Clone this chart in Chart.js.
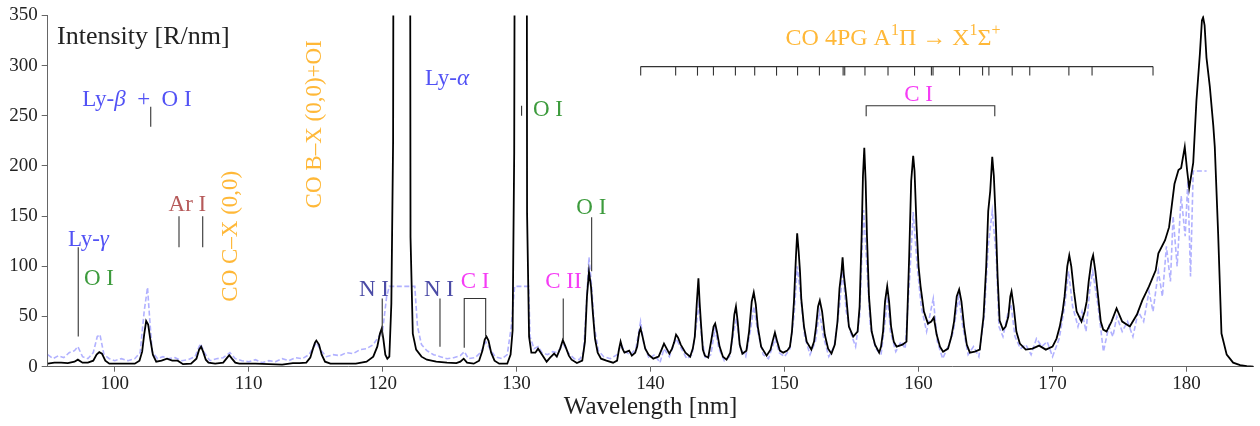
<!DOCTYPE html>
<html>
<head>
<meta charset="utf-8">
<script src="https://cdn.jsdelivr.net/npm/chart.js@4.4.0/dist/chart.umd.min.js"></script>
<style>html,body{margin:0;padding:0;background:#fff}</style>
</head>
<body>
<canvas id="c" width="1260" height="426"></canvas>
<script>
// observed spectrum (black), wavelength in nm, intensity in R/nm
const specWl = [95.0,95.5,96.0,96.5,97.0,97.25,97.6,98.0,98.4,98.65,
  98.85,99.05,99.3,99.6,100.5,101.5,101.85,102.05,102.2,102.35,
  102.5,102.65,102.85,103.1,103.5,103.9,104.3,104.7,105.1,105.7,
  106.1,106.3,106.45,106.6,106.8,107.0,107.5,108.1,108.4,108.55,
  108.75,109.0,109.3,110.5,111.5,112.5,113.3,113.8,114.3,114.6,
  114.8,114.95,115.05,115.25,115.45,115.7,116.1,117.0,118.0,118.8,
  119.3,119.6,119.8,119.93,120.05,120.2,120.35,120.5,120.65,120.78,
  120.88,122.0,122.08,122.25,122.5,122.9,123.3,124.0,124.8,125.5,
  125.8,126.05,126.3,126.8,127.2,127.45,127.62,127.75,127.9,128.1,
  128.35,128.7,129.3,129.55,129.7,129.82,129.95,130.72,130.78,130.93,
  131.1,131.4,131.6,131.9,132.24,132.5,132.8,133.0,133.25,133.45,
  133.65,133.9,134.1,134.5,134.9,135.1,135.25,135.4,135.55,135.7,
  135.85,136.05,136.3,136.7,137.2,137.5,137.65,137.76,137.9,138.05,
  138.4,138.6,138.85,139.0,139.15,139.25,139.4,139.6,139.85,140.2,
  140.6,140.85,141.0,141.2,141.4,141.6,141.75,141.9,142.05,142.25,
  142.6,142.95,143.15,143.3,143.45,143.57,143.66,143.77,143.9,144.05,
  144.3,144.55,144.7,144.82,144.95,145.15,145.4,145.67,145.95,146.1,
  146.25,146.37,146.5,146.65,146.85,147.15,147.35,147.55,147.7,147.85,
  148.0,148.25,148.66,148.95,149.1,149.28,149.45,149.65,149.9,150.2,
  150.4,150.55,150.7,150.85,150.94,151.05,151.15,151.25,151.45,151.65,
  152.0,152.2,152.35,152.5,152.63,152.8,153.0,153.25,153.5,153.75,
  153.95,154.1,154.25,154.33,154.42,154.6,154.8,155.12,155.45,155.6,
  155.75,155.85,155.95,156.05,156.15,156.3,156.5,156.75,157.06,157.2,
  157.35,157.5,157.66,157.8,157.95,158.15,158.36,158.8,159.1,159.3,
  159.45,159.6,159.7,159.85,160.0,160.15,160.4,160.7,160.95,161.14,
  161.35,161.6,161.83,162.2,162.45,162.65,162.85,163.03,163.2,163.4,
  163.6,163.83,164.2,164.57,164.85,165.05,165.2,165.35,165.5,165.62,
  165.75,165.9,166.05,166.3,166.5,166.7,166.85,166.94,167.1,167.3,
  167.56,168.0,168.5,169.0,169.5,170.0,170.3,170.54,170.75,170.9,
  171.1,171.25,171.4,171.6,171.8,172.16,172.4,172.55,172.7,172.9,
  173.03,173.2,173.4,173.6,173.78,174.03,174.4,174.78,175.2,175.77,
  176.3,176.7,177.2,177.7,177.9,178.4,178.7,179.1,179.4,179.6,
  179.87,180.05,180.2,180.5,180.74,181.0,181.15,181.24,181.35,181.49,
  181.74,182.0,182.11,182.36,182.61,183.0,183.48,184.0,184.5,185.0];
const specI = [3,4,4,3.5,5,7,4,4,6,12,
  14.5,13,6,3,3,3,6,15,32,45.5,
  42,28,12,5,6,8,6,6,2.5,3,
  8,17,20,15,7,4,3,4,9,11.5,
  8,4,3,3,2.5,2,3.5,3.5,4,9,
  18,24,26,22,12,5,3,3,3,5,
  10,20,33,38,28,12,8,10,63,224,
  1000,1000,129,33,17,10,7,5,4,3.5,
  5,8,4,3,6,16,27,30,26,14,
  6,3,3,12,36,214,1000,1000,153,30,
  14,14,18,12,5,9,13,10,18,26.5,
  20,11,7,3.6,6,25,70,94.5,80,52,
  28,14,8,6,4,6,18,25,18,14,
  16,11,14,20,34,38,30,18,12,8,
  10,18,23,18,13,18,24,32,29,22,
  14,10,18,30,64,88,64,41,17,11,
  9,28,40,43,35,20,10,7,14,30,
  52,60,45,22,13,16,35,65,74,62,
  40,20,11,17,25,34,25,16,14,16,
  20,35,65,110,133,115,95,67,40,25,
  17,25,40,60,66,55,32,18,13,22,
  45,78,95,109,92,70,40,30,35,60,
  130,190,218,185,130,70,35,22,14,20,
  35,65,80,65,40,25,20,22,25,110,
  185,210,195,140,100,80,55,43,45,49,
  32,20,15,18,30,45,70,77,65,40,
  22,14,15,17,50,100,155,175,209,190,
  150,90,46,37,40,50,70,75,60,35,
  23,17,18,21,17,20,28,40,55,70,
  100,111,100,75,55,45,55,65,85,105,
  111,95,70,45,37,35,45,58,45,40,
  52,66,80,96,113,126,139,182,196,198,
  219,195,178,203,265,312,345,348,340,308,
  279,240,219,133,33,12,4,1.5,0.5,0];

// model spectrum (dashed blue)
const modelWl = [95.0,95.4,95.8,96.2,96.6,97.0,97.25,97.6,98.0,98.4,98.7,98.9,99.2,99.6,100.0,100.5,101.0,101.5,101.9,102.2,
  102.45,102.6,102.8,103.2,103.6,104.0,104.5,105.0,105.5,106.0,106.4,106.7,107.1,107.6,108.1,108.6,109.0,109.5,110.0,110.5,
  111.0,111.5,112.0,112.5,113.0,113.5,114.0,114.5,115.05,115.4,115.8,116.3,116.8,117.3,117.8,118.3,118.8,119.3,119.7,120.0,
  120.3,120.5,122.4,122.6,122.9,123.3,123.8,124.3,124.8,125.3,125.8,126.1,126.4,126.9,127.3,127.7,128.0,128.4,128.9,129.3,
  129.6,129.85,130.9,131.0,131.3,131.6,131.9,132.3,132.7,133.0,133.5,133.9,134.3,134.7,135.0,135.2,135.4,135.6,135.8,136.1,
  136.5,137.0,137.5,137.8,138.1,138.5,138.9,139.25,139.5,139.9,140.3,140.7,141.0,141.4,141.9,142.3,142.7,143.1,143.4,143.6,
  143.8,144.1,144.5,144.8,145.1,145.5,145.9,146.2,146.4,146.7,147.1,147.5,147.7,148.0,148.4,148.8,149.3,149.6,150.0,150.4,
  150.7,150.95,151.2,151.5,151.9,152.3,152.6,152.9,153.3,153.7,154.1,154.35,154.6,154.9,155.3,155.6,155.9,156.1,156.4,156.8,
  157.2,157.5,157.7,157.9,158.3,158.7,159.0,159.3,159.6,159.9,160.2,160.6,160.9,161.1,161.4,161.8,162.2,162.6,163.0,163.3,
  163.7,164.1,164.5,164.9,165.2,165.5,165.8,166.0,166.3,166.7,166.9,167.2,167.6,168.0,168.4,168.8,169.2,169.6,170.0,170.5,
  170.9,171.2,171.5,171.9,172.2,172.5,172.8,173.0,173.4,173.8,174.2,174.5,174.8,175.2,175.6,176.0,176.4,176.8,177.2,177.5,
  177.9,178.2,178.5,178.8,179.0,179.3,179.6,179.9,180.1,180.3,180.5,181.5];
const modelI = [12,8,11,9,14,16,20,10,8,14,30,32,12,8,6,8,6,8,14,55,
  79,50,15,8,10,8,9,6,7,10,23,14,6,8,9,14,8,6,5,7,
  4,6,5,8,6,9,8,12,24,16,10,12,11,14,13,17,18,22,30,36,
  70,80,80,40,22,16,12,10,8,9,11,15,8,9,14,25,18,10,8,12,
  40,80,80,30,18,20,14,12,15,14,22,13,8,7,15,60,109,80,40,16,
  10,8,12,22,15,12,18,45,22,8,12,4,18,10,28,18,8,12,40,62,
  30,8,12,38,18,6,10,35,48,18,10,40,60,35,12,8,28,14,10,18,
  50,100,70,30,12,25,55,30,10,20,60,95,55,35,20,50,156,110,40,18,
  12,45,70,35,15,25,18,80,154,100,60,35,55,68,25,8,20,35,70,40,
  12,20,10,50,120,155,110,40,30,55,62,30,18,22,12,28,20,25,10,28,
  60,95,60,40,55,35,80,95,60,15,40,30,50,35,45,30,55,45,75,55,
  95,70,120,85,150,100,170,130,185,90,195,195];

const xTicks = [100,110,120,130,140,150,160,170,180];
const yTicks = [0,50,100,150,200,250,300,350];

// CO 4PG A-X band positions (nm)
const co4pgBands = [139.26,141.87,143.5,144.69,146.33,147.77,149.4,150.97,152.6,154.37,154.49,156.0,
  157.72,159.7,160.96,161.08,163.06,164.78,165.25,166.99,168.3,171.22,172.95,177.5];

const BLUE = '#5252f5', GREEN = '#3d9b3d', RED = '#b65a5a', ORANGE = '#ffb838',
  INDIGO = '#4b4ba6', MAGENTA = '#f53cf5';
const FONT = '"Liberation Serif", serif';

const labels = [
  { segs: [['Intensity [R/nm]', '']], x: 95.7, y: 328, color: '#222', size: 26, align: 'left' },
  { segs: [['Ly-', ''], ['β', 'i'], ['\u2002+\u2002O I', '']], x: 101.66, y: 266, color: BLUE },
  { segs: [['Ly-', ''], ['γ', 'i']], x: 98.04, y: 126, color: BLUE },
  { segs: [['O I', '']], x: 98.83, y: 87, color: GREEN },
  { segs: [['Ar I', '']], x: 105.43, y: 161, color: RED },
  { segs: [['CO C–X (0,0)', '']], x: 108.68, y: 130, color: ORANGE, rot: true },
  { segs: [['CO B–X (0,0)+OI', '']], x: 114.95, y: 241.5, color: ORANGE, rot: true },
  { segs: [['N I', '']], x: 119.35, y: 76, color: INDIGO },
  { segs: [['Ly-', ''], ['α', 'i']], x: 124.8, y: 287, color: BLUE },
  { segs: [['O I', '']], x: 132.34, y: 256, color: GREEN },
  { segs: [['N I', '']], x: 124.2, y: 76, color: INDIGO },
  { segs: [['C I', '']], x: 126.9, y: 84, color: MAGENTA },
  { segs: [['C II', '']], x: 133.49, y: 84, color: MAGENTA },
  { segs: [['O I', '']], x: 135.58, y: 158, color: GREEN },
  { segs: [['CO 4PG A', ''], ['1', 'sup'], ['Π → X', ''], ['1', 'sup'], ['Σ', ''], ['+', 'sup']], x: 158.1, y: 327, color: ORANGE, size: 24 },
  { segs: [['C I', '']], x: 160.0, y: 271, color: MAGENTA },
];

const marks = [
  [[97.28, 30], [97.28, 119]],
  [[102.69, 239], [102.69, 259]],
  [[104.8, 119], [104.8, 150]],
  [[106.57, 119], [106.57, 150]],
  [[119.97, 30], [119.97, 68]],
  [[124.28, 20], [124.28, 68]],
  [[126.09, 19], [126.09, 68], [127.69, 68], [127.69, 30]],
  [[130.37, 250], [130.37, 260]],
  [[133.48, 27], [133.48, 68]],
  [[135.6, 95], [135.6, 149]],
  [[156.09, 249.5], [156.09, 260], [165.69, 260], [165.69, 249.5]],
  [[co4pgBands[0], 299], [co4pgBands[co4pgBands.length - 1], 299]],
  ...co4pgBands.map(b => [[b, 290], [b, 299]])
];

function drawRich(ctx, segs, cx, cy, size, color, rot, align) {
  ctx.save();
  ctx.translate(cx, cy);
  if (rot) ctx.rotate(-Math.PI / 2);
  ctx.fillStyle = color;
  ctx.textBaseline = 'middle';
  ctx.textAlign = 'left';
  const fontFor = st => (st === 'i' ? 'italic ' : '') + (st === 'sup' ? Math.round(size * 0.68) : size) + 'px ' + FONT;
  let w = 0;
  segs.forEach(([t, st]) => { ctx.font = fontFor(st); w += ctx.measureText(t).width; });
  let xx = align === 'left' ? 0 : -w / 2;
  segs.forEach(([t, st]) => {
    ctx.font = fontFor(st);
    ctx.fillText(t, xx, st === 'sup' ? -size * 0.33 : 0);
    xx += ctx.measureText(t).width;
  });
  ctx.restore();
}

const annot = {
  id: 'annot',
  afterDatasetsDraw(chart) {
    const { ctx, scales: { x, y } } = chart;
    ctx.save();
    ctx.strokeStyle = '#333';
    ctx.lineWidth = 1.1;
    marks.forEach(m => {
      ctx.beginPath();
      m.forEach(([a, b], i) => {
        const px = x.getPixelForValue(a), py = y.getPixelForValue(b);
        if (i === 0) ctx.moveTo(px, py); else ctx.lineTo(px, py);
      });
      ctx.stroke();
    });
    labels.forEach(l => {
      drawRich(ctx, l.segs, x.getPixelForValue(l.x), y.getPixelForValue(l.y), l.size || 23, l.color, l.rot, l.align);
    });
    ctx.restore();
  }
};

const spec = specWl.map((w, i) => ({ x: w, y: specI[i] }));
const model = modelWl.map((w, i) => ({ x: w, y: modelI[i] }));

Chart.defaults.font.family = FONT;

new Chart(document.getElementById('c'), {
  type: 'line',
  data: {
    datasets: [
      { label: 'Observed', data: spec, borderColor: '#000', borderWidth: 1.8, pointRadius: 0, tension: 0, order: 0 },
      { label: 'Model', data: model, borderColor: 'rgba(125,125,255,0.6)', borderDash: [5, 2.5], borderWidth: 1.6, pointRadius: 0, tension: 0, order: 1 }
    ]
  },
  options: {
    responsive: false,
    animation: false,
    devicePixelRatio: 1,
    layout: { padding: { top: 15, right: 6.5, left: 0, bottom: 0 } },
    plugins: { legend: { display: false }, tooltip: { enabled: false } },
    scales: {
      x: {
        type: 'linear', min: 95, max: 185,
        afterBuildTicks: s => { s.ticks = xTicks.map(v => ({ value: v })); },
        afterFit: s => { s.height = 59.3; },
        grid: { drawOnChartArea: false, tickLength: 5, color: '#666' },
        border: { color: '#666' },
        ticks: { font: { size: 19 }, color: '#222', padding: 1, maxRotation: 0 },
        title: { display: true, text: 'Wavelength [nm]', font: { size: 25 }, color: '#222', padding: { top: 0, bottom: 4 } }
      },
      y: {
        min: 0, max: 350,
        afterBuildTicks: s => { s.ticks = yTicks.map(v => ({ value: v })); },
        afterFit: s => { s.width = 47.7; },
        grid: { drawOnChartArea: false, tickLength: 6, color: '#666' },
        border: { color: '#666' },
        ticks: { font: { size: 19 }, color: '#222', padding: 4 }
      }
    }
  },
  plugins: [annot]
});
</script>
</body>
</html>
